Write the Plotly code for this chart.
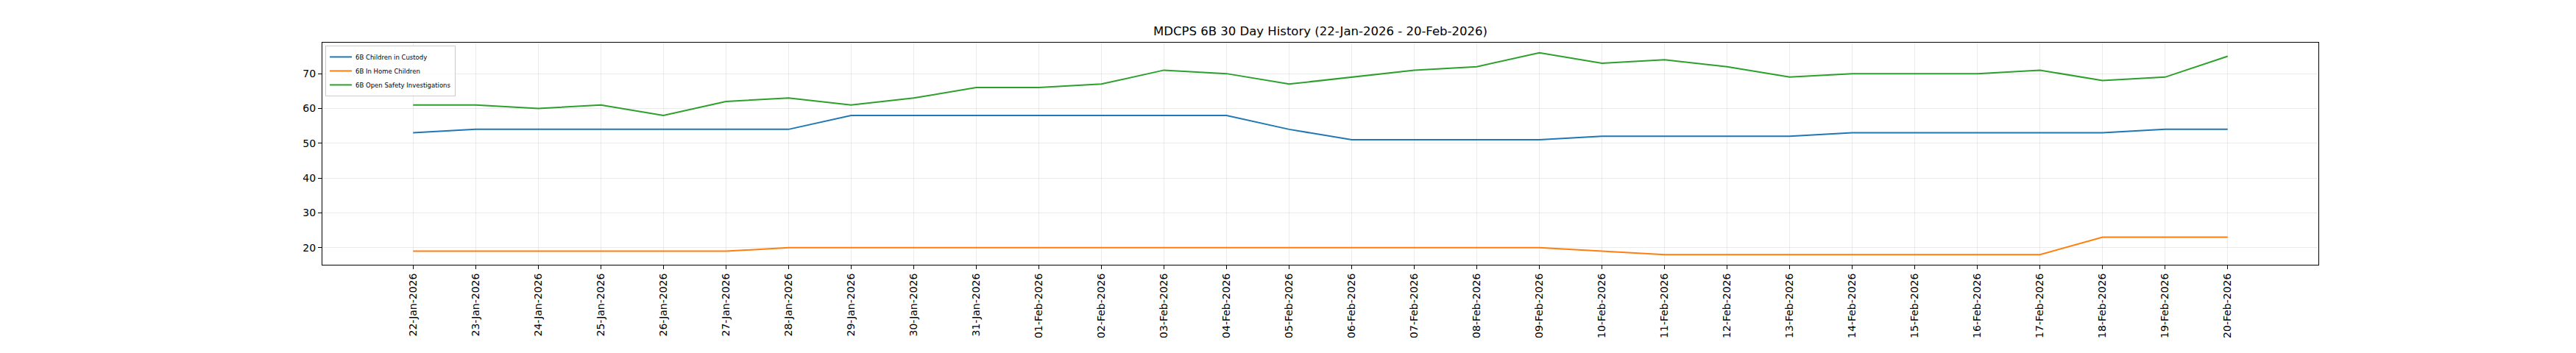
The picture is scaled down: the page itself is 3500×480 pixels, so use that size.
import plotly.graph_objects as go

dates = ["22-Jan-2026", "23-Jan-2026", "24-Jan-2026", "25-Jan-2026", "26-Jan-2026",
         "27-Jan-2026", "28-Jan-2026", "29-Jan-2026", "30-Jan-2026", "31-Jan-2026",
         "01-Feb-2026", "02-Feb-2026", "03-Feb-2026", "04-Feb-2026", "05-Feb-2026",
         "06-Feb-2026", "07-Feb-2026", "08-Feb-2026", "09-Feb-2026", "10-Feb-2026",
         "11-Feb-2026", "12-Feb-2026", "13-Feb-2026", "14-Feb-2026", "15-Feb-2026",
         "16-Feb-2026", "17-Feb-2026", "18-Feb-2026", "19-Feb-2026", "20-Feb-2026"]

children_in_custody = [53, 54, 54, 54, 54, 54, 54, 58, 58, 58,
                       58, 58, 58, 58, 54, 51, 51, 51, 51, 52,
                       52, 52, 52, 53, 53, 53, 53, 53, 54, 54]

in_home_children = [19, 19, 19, 19, 19, 19, 20, 20, 20, 20,
                    20, 20, 20, 20, 20, 20, 20, 20, 20, 19,
                    18, 18, 18, 18, 18, 18, 18, 23, 23, 23]

open_safety_investigations = [61, 61, 60, 61, 58, 62, 63, 61, 63, 66,
                              66, 67, 71, 70, 67, 69, 71, 72, 76, 73,
                              74, 72, 69, 70, 70, 70, 71, 68, 69, 75]

series_names = ["6B Children in Custody", "6B In Home Children", "6B Open Safety Investigations"]
series_colors = ["#1f77b4", "#ff7f0e", "#2ca02c"]
y_ticks = [20, 30, 40, 50, 60, 70]

fig = go.Figure()
for name, vals, col in zip(series_names,
                           [children_in_custody, in_home_children, open_safety_investigations],
                           series_colors):
    fig.add_trace(go.Scatter(x=dates, y=vals, mode="lines", name=name,
                             line=dict(color=col, width=2)))

all_vals = children_in_custody + in_home_children + open_safety_investigations
lo, hi = min(all_vals), max(all_vals)
pad = (hi - lo) * 0.05
n = len(dates)
xpad = (n - 1) * 0.05

W, H = 3500, 480
OFF = 8  # page body margin
L, R, T, B = 438 - OFF, 350 + OFF, 58 - OFF, 120 + OFF

fig.update_layout(
    width=W, height=H,
    margin=dict(l=L, r=R, t=T, b=B, pad=0),
    paper_bgcolor="white", plot_bgcolor="white",
    font=dict(family="DejaVu Sans", color="black", size=14),
    title=dict(text="MDCPS 6B 30 Day History (22-Jan-2026 - 20-Feb-2026)",
               x=0.5, xref="paper", xanchor="center",
               y=1 - (42 - OFF) / H, yref="container", yanchor="middle",
               font=dict(family="DejaVu Sans", size=16.5, color="black")),
    showlegend=True,
    legend=dict(x=0.0015, y=0.987, xanchor="left", yanchor="top",
                bgcolor="rgba(255,255,255,0.8)", bordercolor="#cccccc", borderwidth=1,
                font=dict(family="DejaVu Sans", size=8.5, color="black"),
                tracegroupgap=0, itemwidth=30),
    xaxis=dict(type="category", range=[-xpad, n - 1 + xpad],
               tickangle=-90, ticks="outside", ticklen=5, tickwidth=1, tickcolor="black",
               showline=True, linecolor="black", linewidth=1, mirror=True,
               showgrid=True, gridcolor="rgba(176,176,176,0.25)", gridwidth=1,
               tickfont=dict(family="DejaVu Sans", size=14, color="black"),
               zeroline=False, automargin=False),
    yaxis=dict(range=[lo - pad, hi + pad], tickvals=y_ticks,
               ticks="outside", ticklen=5, tickwidth=1, tickcolor="black",
               showline=True, linecolor="black", linewidth=1, mirror=True,
               showgrid=True, gridcolor="rgba(176,176,176,0.25)", gridwidth=1,
               tickfont=dict(family="DejaVu Sans", size=14, color="black"),
               zeroline=False, automargin=False),
)

fig.write_html("out.html")
